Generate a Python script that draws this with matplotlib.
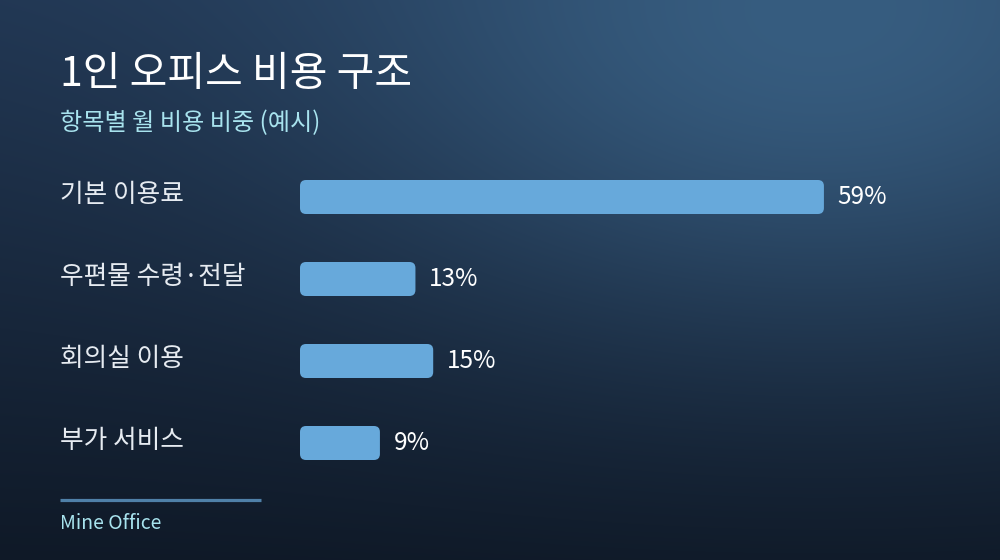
import matplotlib.pyplot as plt
import numpy as np
from matplotlib.patches import FancyBboxPatch
from matplotlib.transforms import blended_transform_factory

plt.rcParams['font.family'] = ['Noto Sans CJK KR', 'DejaVu Sans']

# data
categories = ['기본 이용료', '우편물 수령·전달', '회의실 이용', '부가 서비스']
shares = [59, 13, 15, 9]
title = '1인 오피스 비용 구조'
subtitle = '항목별 월 비용 비중 (예시)'
footer = 'Mine Office'

W, H = 1000, 560
fig = plt.figure(figsize=(W / 100, H / 100), dpi=100)

# background gradient (dark navy, glow toward top right)
bg = fig.add_axes([0, 0, 1, 1])
yy, xx = np.mgrid[0:H, 0:W]
top = np.array([0x21, 0x36, 0x52]) / 255
bottom = np.array([0x0f, 0x19, 0x27]) / 255
glow = np.array([0x37, 0x5d, 0x80]) / 255
t = (yy / H)[..., None]
base = top * (1 - t) + bottom * t
d = np.sqrt(((xx - 820) / 520.0) ** 2 + ((yy - 10) / 330.0) ** 2)
w = np.clip(np.exp(-d ** 2 * 1.2), 0, 1)[..., None]
img = base * (1 - w) + glow * w
bg.imshow(img, extent=[0, W, H, 0], aspect='auto', interpolation='bilinear')
bg.set_xlim(0, W)
bg.set_ylim(H, 0)
bg.axis('off')

# bar axes: x=0 at 300px, 8.88 px per percent; rows 82px apart
px_per_pct = 8.88
row = 82
ax_left, ax_w = 300, 640
ax_bottom = (H - 443) - row / 2
ax_h = row * 4
ax = fig.add_axes([ax_left / W, ax_bottom / H, ax_w / W, ax_h / H])
ax.set_xlim(0, ax_w / px_per_pct)
ax.set_ylim(3.5, -0.5)
ax.axis('off')

ypos = np.arange(len(categories))
bar_h = 34 / row
bars = ax.barh(ypos, shares, height=bar_h, color='none')
r_px = 6
aspect = (1 / row) / (1 / px_per_pct)
for b in bars:
    b.set_visible(False)
    p = FancyBboxPatch((b.get_x(), b.get_y()), b.get_width(), b.get_height(),
                       boxstyle=f'round,pad=0,rounding_size={r_px / px_per_pct}',
                       mutation_aspect=aspect, facecolor='#67a9db', edgecolor='none')
    ax.add_patch(p)

for y, v in zip(ypos, shares):
    ax.annotate(f'{v}%', (v, y), xytext=(10, 0), textcoords='offset points',
                ha='left', va='center', color='#ffffff', fontsize=17.5)

# category labels at left
tr = blended_transform_factory(fig.transFigure, ax.transData)
for y, c in zip(ypos, categories):
    ax.text(60 / W, y - 0.03, c, transform=tr, ha='left', va='center',
            color='#e6ebf1', fontsize=18.5)

# titles
fig.text(60 / W, 1 - 86 / H, title, ha='left', va='baseline',
         color='#ffffff', fontsize=29.5)
fig.text(60 / W, 1 - 130 / H, subtitle, ha='left', va='baseline',
         color='#a8e3ee', fontsize=17.4)

# footer rule and source
bg.plot([60, 261], [500, 500], color='#4f80a8', lw=2.3, solid_capstyle='butt')
fig.text(60 / W, 1 - 529 / H, footer, ha='left', va='baseline',
         color='#a8e3ee', fontsize=14)

fig.savefig('out.png', dpi=100)
